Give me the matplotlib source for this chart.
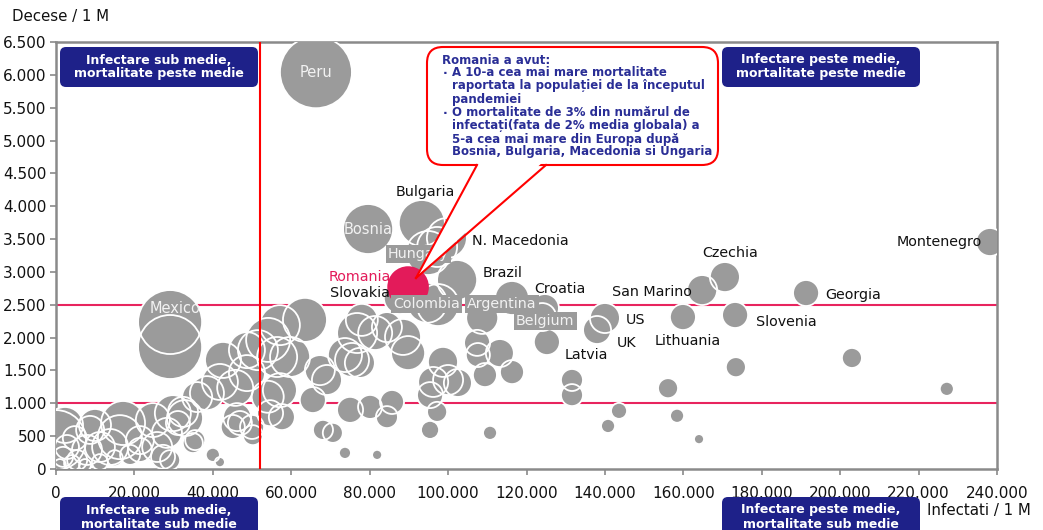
import matplotlib
matplotlib.use('Agg')
import matplotlib.pyplot as plt
from matplotlib.patches import FancyBboxPatch, Polygon
from matplotlib.transforms import Affine2D
from matplotlib.ticker import FuncFormatter
from matplotlib.lines import Line2D

# ---------------- data ----------------
# labelled countries: infected / 1M, deaths / 1M, bubble size
country_names = ["Peru", "Mexico", "Mexico ", "Bosnia", "Bulgaria", "N. Macedonia", "Hungary",
                 "Slovakia", "Brazil", "Colombia", "Argentina", "Croatia", "Belgium", "Latvia",
                 "US", "UK", "Lithuania", "San Marino", "Czechia", "Slovenia", "Georgia", "Montenegro"]
country_inf = [66300, 29100, 29100, 79600, 93300, 99700, 94900,
               87700, 102300, 97400, 116300, 124700, 124000, 125200,
               140000, 138000, 159900, 164800, 170600, 173200, 191300, 238200]
country_dec = [6040, 2237, 1857, 3653, 3744, 3516, 3288,
               2603, 2877, 2496, 2603, 2450, 2313, 1933,
               2298, 2116, 2313, 2724, 2922, 2344, 2679, 3455]
country_size = [36, 32, 32, 25, 23, 20, 22,
                16, 20, 21, 17, 14, 14, 13,
                15, 14, 13, 15, 15, 13, 13, 14]

romania_inf = 89800
romania_dec = 2770
romania_size = 20

other_inf = [97200, 94600, 203000, 173400, 227200, 156100, 158400, 131600, 131600, 143600,
             140800, 164000, 110700, 81900, 95400, 97200, 95400, 102500, 100000, 96200,
             98700, 107400, 107600, 113200, 109400, 116300, 108700, 81400, 84400, 88500,
             89800, 77500, 80100, 84400, 85700, 42600, 48700, 51500, 48700, 45700,
             41800, 38500, 36000, 32400, 31100, 35500, 46200, 45100, 50000, 50200,
             54600, 57600, 57100, 56400, 59700, 57100, 54100, 63500, 67300, 69100,
             65500, 68100, 70600, 73700, 40000, 41800, 75000, 76800, 75500, 78000,
             73700, 54000, 0, 17100, 16300, 24700, 29800, 32900, 28300, 34900,
             46900, 13800, 11200, 7900, 2800, 1800, 5400, 4100, 25800, 27300,
             29100, 8700, 4800, 18900, 21400, 1000, 11200, 15000, 7400, 2300,
             9950, 21400]
other_dec = [3380, 2530, 1690, 1550, 1220, 1230, 810, 1355, 1125, 885,
             655, 455, 550, 215, 595, 870, 1125, 1310, 1355, 1325,
             1630, 1920, 1735, 1765, 1430, 1475, 2300, 2070, 2160, 2010,
             1765, 1615, 945, 790, 1020, 1660, 1810, 1810, 1460, 1235,
             1325, 1155, 1095, 870, 700, 440, 790, 640, 640, 515,
             850, 790, 1200, 1705, 1705, 2190, 1965, 2270, 1505, 1355,
             1050, 595, 550, 245, 215, 105, 900, 2070, 1660, 2270,
             1735, 1100, 440, 700, 485, 745, 850, 775, 550, 395,
             700, 335, 335, 290, 335, 185, 135, 90, 335, 185,
             135, 595, 470, 215, 290, 60, 105, 165, 60, 670,
             670, 440]
other_size = [20, 20, 10, 10, 7, 10, 7, 11, 11, 8,
              7, 5, 7, 5, 9, 10, 13, 14, 15, 15,
              15, 13, 12, 14, 12, 12, 16, 17, 15, 18,
              17, 15, 12, 11, 12, 18, 18, 20, 18, 18,
              18, 17, 15, 15, 12, 10, 14, 12, 12, 10,
              13, 13, 17, 20, 20, 20, 22, 22, 15, 15,
              13, 10, 10, 6, 7, 5, 13, 20, 17, 16,
              17, 16, 30, 22, 22, 17, 18, 18, 15, 10,
              12, 18, 15, 15, 12, 10, 10, 8, 15, 12,
              10, 14, 12, 10, 12, 6, 8, 8, 6, 18,
              16, 14]

avg_inf = 52000
avg_dec_high = 2500
avg_dec_low = 1000

x_ticks = list(range(0, 240001, 20000))
y_ticks = list(range(0, 6501, 500))

# ---------------- figure ----------------
W, H = 1043, 530
fig = plt.figure(figsize=(W / 100, H / 100), dpi=100)
ax = fig.add_axes([56 / W, (H - 469) / H, (997 - 56) / W, (469 - 42) / H])
PX = Affine2D().scale(1, -1).translate(0, H)  # reference-pixel coords -> display

GRAY = '#9b9b9b'
NAVY = '#1e2189'
PINK = '#e31b5a'

def msize(r):
    return (1.44 * r) ** 2

ax.axhline(avg_dec_high, color='#e8245e', lw=1.5, zorder=1)
ax.axhline(avg_dec_low, color='#e8245e', lw=1.5, zorder=1)

all_inf = other_inf + country_inf
all_dec = other_dec + country_dec
all_s = [msize(r) for r in other_size + country_size]

# fills first, then white rings on top (as in the original bubble chart)
ax.scatter(all_inf, all_dec, s=all_s, c=GRAY, edgecolors='none', zorder=3)
ax.scatter(all_inf, all_dec, s=all_s, facecolors='none', edgecolors='white',
           linewidths=1.3, zorder=3.5)
ax.scatter([romania_inf], [romania_dec], s=[msize(romania_size) * 1.08], c=PINK,
           edgecolors='none', zorder=3.7)

ax.axvline(avg_inf, color='#ff0000', lw=1.5, zorder=6)

ax.set_xlim(0, 240000)
ax.set_ylim(0, 6500)
ax.set_xticks(x_ticks)
ax.set_yticks(y_ticks)
fmt = FuncFormatter(lambda v, p: f"{v:,.0f}".replace(',', '.'))
ax.xaxis.set_major_formatter(fmt)
ax.yaxis.set_major_formatter(fmt)
for s in ax.spines.values():
    s.set_color('#8a8a8a')
    s.set_linewidth(1.8)
ax.tick_params(axis='both', direction='out', length=4, width=1.2, color='#8a8a8a',
               labelsize=11, labelcolor='#111111')
ax.tick_params(axis='x', pad=8)
ax.tick_params(axis='y', pad=3)

# ---------------- country labels ----------------
# (offset px x, offset px y, ha, style)
label_style = {
    "Peru": (0, 0, 'center', 'white'),
    "Mexico": (5, 14, 'center', 'white'),
    "Bosnia": (0, 0, 'center', 'white'),
    "Bulgaria": (3, 31, 'center', 'dark'),
    "N. Macedonia": (25, -3, 'left', 'dark'),
    "Hungary": (-10, -1, 'center', 'box'),
    "Slovakia": (-40, 5, 'center', 'dark'),
    "Brazil": (45, 7, 'center', 'dark'),
    "Colombia": (-11, 1, 'center', 'box'),
    "Argentina": (-10, -6, 'center', 'box'),
    "Croatia": (15, 19, 'center', 'dark'),
    "Belgium": (3, -4, 'center', 'box'),
    "Latvia": (39, -13, 'center', 'dark'),
    "US": (31, -2, 'center', 'dark'),
    "UK": (29, -13, 'center', 'dark'),
    "Lithuania": (5, -24, 'center', 'dark'),
    "San Marino": (-50, -2, 'center', 'dark'),
    "Czechia": (5, 24, 'center', 'dark'),
    "Slovenia": (51, -7, 'center', 'dark'),
    "Georgia": (47, -2, 'center', 'dark'),
    "Montenegro": (-51, 0, 'center', 'dark'),
}
for name, xi, yi in zip(country_names, country_inf, country_dec):
    if name not in label_style:
        continue
    dx, dy, ha, st = label_style[name]
    kw = dict(fontsize=10.3, ha=ha, va='center', zorder=7)
    if st == 'white':
        kw.update(color='#f2f2f2', fontsize=10.5)
    elif st == 'box':
        kw.update(color='#f2f2f2', bbox=dict(facecolor=GRAY, edgecolor='none', pad=1.5))
    else:
        kw.update(color='#111111')
    ax.annotate(name, xy=(xi, yi), xytext=(dx, dy), textcoords='offset pixels',
                annotation_clip=False, **kw)

ax.annotate("Romania", xy=(romania_inf, romania_dec), xytext=(-48, 10),
            textcoords='offset pixels', ha='center', va='center', fontsize=10.3,
            color=PINK, zorder=7)

# ---------------- axis titles ----------------
fig.text(12, 17, "Decese / 1 M", transform=PX, fontsize=10.8, va='center', ha='left', color='#111111')
fig.text(927, 510, "Infectati / 1 M", transform=PX, fontsize=10.8, va='center', ha='left', color='#111111')

# ---------------- quadrant boxes ----------------
quad = [
    (60, 47, "Infectare sub medie,\nmortalitate peste medie"),
    (722, 47, "Infectare peste medie,\nmortalitate peste medie"),
    (60, 497, "Infectare sub medie,\nmortalitate sub medie"),
    (722, 497, "Infectare peste medie,\nmortalitate sub medie"),
]
for x0, y0, txt in quad:
    p = FancyBboxPatch((x0, y0), 198, 40, boxstyle='round,pad=0,rounding_size=6',
                       transform=PX, facecolor=NAVY, edgecolor='none', zorder=10)
    fig.add_artist(p)
    fig.text(x0 + 99, y0 + 20, txt, transform=PX, ha='center', va='center', color='white',
             fontsize=9, fontweight='bold', linespacing=1.1, zorder=11)

# ---------------- callout ----------------
box = FancyBboxPatch((427, 47), 291, 118, boxstyle='round,pad=0,rounding_size=16',
                     transform=PX, facecolor='white', edgecolor='#ff0000', linewidth=1.5, zorder=10)
fig.add_artist(box)
tip = (416, 278)
fig.add_artist(Polygon([(479, 162), tip, (543, 162)], closed=True, transform=PX,
                       facecolor='white', edgecolor='none', zorder=11))
fig.add_artist(Line2D([477, tip[0]], [165, tip[1]], transform=PX, color='#ff0000', lw=1.5, zorder=12))
fig.add_artist(Line2D([546, tip[0]], [165, tip[1]], transform=PX, color='#ff0000', lw=1.5, zorder=12))

TXT = '#2a2e96'
fig.text(442, 60, "Romania a avut:", transform=PX, color=TXT, fontsize=8.5, fontweight='bold',
         va='center', ha='left', zorder=13)
lines = [
    (73, True, "A 10-a cea mai mare mortalitate"),
    (86, False, "raportata la populației de la începutul"),
    (99, False, "pandemiei"),
    (113, True, "O mortalitate de 3% din numărul de"),
    (126, False, "infectați(fata de 2% media globala) a"),
    (139, False, "5-a cea mai mare din Europa după"),
    (152, False, "Bosnia, Bulgaria, Macedonia si Ungaria"),
]
for y, bullet, t in lines:
    if bullet:
        fig.text(443, y, "·", transform=PX, color=TXT, fontsize=9, fontweight='bold',
                 va='center', ha='left', zorder=13)
    fig.text(452, y, t, transform=PX, color=TXT, fontsize=8.5, fontweight='bold',
             va='center', ha='left', zorder=13)

fig.savefig('out.png', dpi=100)
